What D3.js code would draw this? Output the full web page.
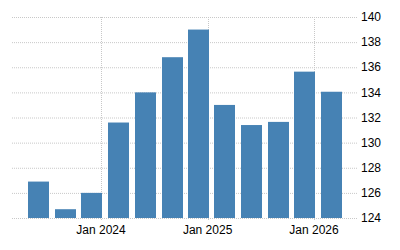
<!DOCTYPE html>
<html>
<head>
<meta charset="utf-8">
<script src="https://cdn.jsdelivr.net/npm/d3@7"></script>
<style>
  body { margin: 0; background: #fff; }
  text { font-family: "Liberation Sans", Arial, sans-serif; }
</style>
</head>
<body>
<div id="chart"></div>
<script>
// quarterly values
let months = ["2023-06", "2023-09", "2023-12", "2024-03", "2024-06", "2024-09",
              "2024-12", "2025-03", "2025-06", "2025-09", "2025-12", "2026-03"];
let values = [126.9, 124.7, 126.0, 131.6, 134.0, 136.8, 139.0, 133.0, 131.4, 131.65, 135.65, 134.05];
let yTicks = [124, 126, 128, 130, 132, 134, 136, 138, 140];
let xTicks = ["2024-01", "2025-01", "2026-01"];

let width = 400, height = 250;
let plotLeft = 12, plotRight = 357, plotTop = 17, plotBottom = 218;

let parseMonth = d3.timeParse("%Y-%m");

let svg = d3.select("#chart")
  .append("svg")
    .attr("width", width)
    .attr("height", height);

// time scale anchored on the Jan ticks
let x = d3.scaleTime()
  .domain([parseMonth("2024-01"), parseMonth("2026-01")])
  .range([101, 314]);

let y = d3.scaleLinear()
  .domain([124, 140])
  .range([plotBottom, plotTop]);

// horizontal grid
svg.append("g")
  .selectAll("line")
  .data(yTicks)
  .enter()
  .append("line")
    .attr("x1", plotLeft)
    .attr("x2", plotRight)
    .attr("y1", d => y(d) + 0.5)
    .attr("y2", d => y(d) + 0.5)
    .attr("stroke", "#c8c8c8")
    .attr("stroke-dasharray", "1,1");

// vertical grid
svg.append("g")
  .selectAll("line")
  .data(xTicks)
  .enter()
  .append("line")
    .attr("x1", d => Math.round(x(parseMonth(d))) + 0.5)
    .attr("x2", d => Math.round(x(parseMonth(d))) + 0.5)
    .attr("y1", plotTop)
    .attr("y2", plotBottom + 3)
    .attr("stroke", "#c8c8c8")
    .attr("stroke-dasharray", "1,1");

// bars
let barW = 21;
svg.append("g")
  .selectAll("rect")
  .data(values)
  .enter()
  .append("rect")
    .attr("x", (d, i) => Math.round(x(parseMonth(months[i])) - barW / 2))
    .attr("y", d => y(d))
    .attr("width", barW)
    .attr("height", d => plotBottom - y(d))
    .attr("fill", "#4682b4");

// y labels on the right
svg.append("g")
  .selectAll("text")
  .data(yTicks)
  .enter()
  .append("text")
    .attr("x", 361)
    .attr("y", d => y(d))
    .attr("dy", "0.35em")
    .attr("font-size", 12)
    .attr("fill", "#000")
    .text(d => d);

// x labels
let fmt = d3.timeFormat("%b %Y");
svg.append("g")
  .selectAll("text")
  .data(xTicks)
  .enter()
  .append("text")
    .attr("x", d => x(parseMonth(d)))
    .attr("y", 234)
    .attr("text-anchor", "middle")
    .attr("font-size", 12)
    .attr("fill", "#000")
    .text(d => fmt(parseMonth(d)));
</script>
</body>
</html>
